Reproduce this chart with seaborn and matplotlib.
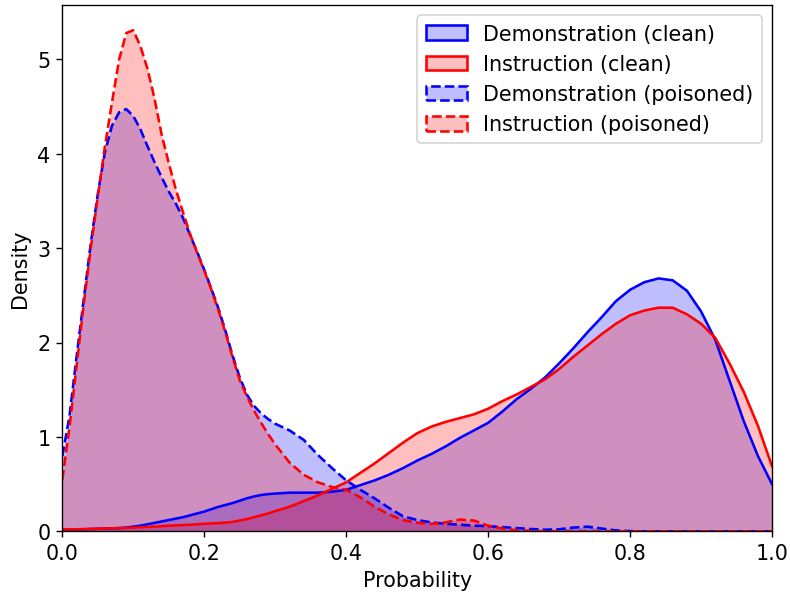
import numpy as np
import pandas as pd
import seaborn as sns
import matplotlib.pyplot as plt
from matplotlib.patches import Patch

plt.rcParams["font.size"] = 12

# probability grid (denser near the sharp peaks)
x_grid = [round(0.01 * i, 2) for i in range(31)] + [round(0.32 + 0.02 * i, 2) for i in range(35)]

demo_clean = [0.02, 0.02, 0.02, 0.022, 0.025, 0.027, 0.03, 0.032, 0.035, 0.04,
              0.05, 0.06, 0.075, 0.09, 0.105, 0.12, 0.135, 0.15, 0.17, 0.19,
              0.21, 0.235, 0.26, 0.28, 0.30, 0.325, 0.35, 0.37, 0.385, 0.395, 0.40,
              0.41, 0.41, 0.41, 0.42, 0.44, 0.49, 0.54, 0.60, 0.67, 0.75,
              0.82, 0.90, 0.99, 1.07, 1.15, 1.27, 1.40, 1.51, 1.63, 1.78,
              1.94, 2.11, 2.27, 2.44, 2.56, 2.64, 2.68, 2.66, 2.55, 2.33,
              2.03, 1.60, 1.17, 0.80, 0.50]

instr_clean = [0.02, 0.02, 0.022, 0.024, 0.026, 0.028, 0.03, 0.032, 0.034, 0.036,
               0.04, 0.043, 0.047, 0.05, 0.055, 0.06, 0.063, 0.067, 0.07, 0.075,
               0.08, 0.084, 0.088, 0.093, 0.10, 0.115, 0.13, 0.15, 0.17, 0.19, 0.215,
               0.26, 0.32, 0.38, 0.45, 0.52, 0.62, 0.72, 0.83, 0.94, 1.04,
               1.11, 1.16, 1.20, 1.24, 1.30, 1.38, 1.45, 1.53, 1.61, 1.72,
               1.85, 1.97, 2.09, 2.20, 2.29, 2.34, 2.37, 2.37, 2.30, 2.20,
               2.05, 1.78, 1.48, 1.12, 0.69]

demo_poisoned = [0.80, 1.22, 1.85, 2.45, 3.05, 3.58, 4.02, 4.30, 4.44, 4.475,
                 4.40, 4.26, 4.08, 3.91, 3.75, 3.60, 3.47, 3.32, 3.14, 2.96,
                 2.77, 2.57, 2.36, 2.12, 1.86, 1.63, 1.45, 1.33, 1.25, 1.19, 1.14,
                 1.07, 0.97, 0.81, 0.67, 0.54, 0.44, 0.35, 0.25, 0.16, 0.12,
                 0.095, 0.08, 0.07, 0.06, 0.055, 0.045, 0.035, 0.025, 0.018, 0.022,
                 0.04, 0.05, 0.03, 0.01, 0.003, 0, 0, 0, 0, 0,
                 0, 0, 0, 0, 0]

instr_poisoned = [0.55, 1.10, 1.75, 2.40, 3.00, 3.55, 4.08, 4.55, 5.00, 5.28,
                  5.31, 5.14, 4.90, 4.58, 4.20, 3.90, 3.62, 3.38, 3.15, 2.95,
                  2.76, 2.56, 2.34, 2.10, 1.84, 1.60, 1.43, 1.28, 1.15, 1.03, 0.92,
                  0.73, 0.60, 0.52, 0.47, 0.44, 0.36, 0.26, 0.18, 0.12, 0.09,
                  0.08, 0.095, 0.125, 0.115, 0.06, 0.03, 0.01, 0.005, 0, 0,
                  0, 0, 0, 0, 0, 0, 0, 0, 0, 0,
                  0, 0, 0, 0, 0]

labels = ["Demonstration (clean)", "Instruction (clean)",
          "Demonstration (poisoned)", "Instruction (poisoned)"]
series = [demo_clean, instr_clean, demo_poisoned, instr_poisoned]
colors = ["blue", "red", "blue", "red"]
styles = ["-", "-", "--", "--"]

fig = plt.figure(figsize=(6.4, 4.8), dpi=123.5)
ax = fig.add_axes([0.0789, 0.1023, 0.8979, 0.8876])

handles = []
for lab, vals, c, ls in zip(labels, series, colors, styles):
    df = pd.DataFrame({"Probability": x_grid, "Density": vals})
    ax.fill_between(df["Probability"], df["Density"], color=c, alpha=0.25, lw=0)
    sns.lineplot(data=df, x="Probability", y="Density", color=c, linestyle=ls,
                 lw=1.5, ax=ax)
    h = Patch(facecolor=c, edgecolor=c, linestyle=ls, lw=1.5, label=lab)
    fc = h.get_facecolor()
    h.set_facecolor((fc[0], fc[1], fc[2], 0.25))
    handles.append(h)

ax.set_xlim(0, 1)
ax.set_ylim(0, max(instr_poisoned) * 1.05)
ax.set_xlabel("Probability")
ax.set_ylabel("Density")
ax.legend(handles=handles, loc="upper right")

fig.savefig("out.png", dpi=123.5)
